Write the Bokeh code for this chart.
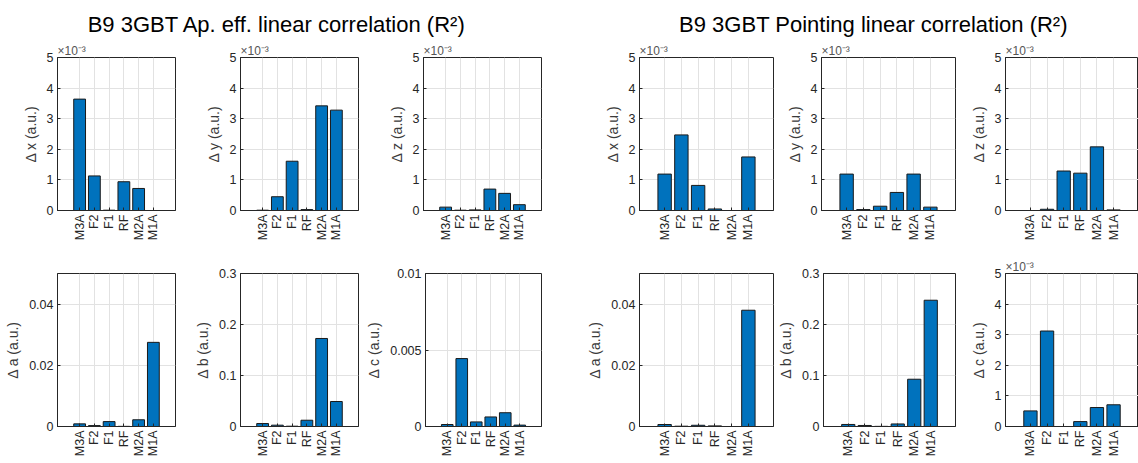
import math
from bokeh.plotting import figure
from bokeh.models import FactorRange, Range1d, FixedTicker, CustomJSTickFormatter, Label, Title
from bokeh.layouts import column, row
from bokeh.embed import file_html
from bokeh.resources import INLINE

# ---------------- data ----------------
cats = ["M3A", "F2", "F1", "RF", "M2A", "M1A"]

# Ap. eff. linear correlation
ap_dx = [3.64e-3, 1.13e-3, 0.01e-3, 0.94e-3, 0.72e-3, 0.0]
ap_dy = [0.01e-3, 0.45e-3, 1.61e-3, 0.03e-3, 3.42e-3, 3.28e-3]
ap_dz = [0.11e-3, 0.01e-3, 0.02e-3, 0.70e-3, 0.56e-3, 0.19e-3]
ap_da = [0.00086, 0.0003, 0.0016, 0.00005, 0.0022, 0.0275]
ap_db = [0.0058, 0.0026, 0.0006, 0.0123, 0.1726, 0.049]
ap_dc = [0.00013, 0.00444, 0.0003, 0.000625, 0.0009, 0.00009]

# Pointing linear correlation
pt_dx = [1.19e-3, 2.47e-3, 0.82e-3, 0.05e-3, 0.0, 1.75e-3]
pt_dy = [1.19e-3, 0.03e-3, 0.14e-3, 0.59e-3, 1.19e-3, 0.11e-3]
pt_dz = [0.0, 0.04e-3, 1.29e-3, 1.22e-3, 2.08e-3, 0.02e-3]
pt_da = [0.00065, 0.0001, 0.0004, 0.0002, 0.0, 0.038]
pt_db = [0.004, 0.002, 0.0003, 0.005, 0.0927, 0.2476]
pt_dc = [0.51e-3, 3.12e-3, 0.0, 0.16e-3, 0.62e-3, 0.71e-3]

title_left = "B9 3GBT Ap. eff. linear correlation (R\u00b2)"
title_right = "B9 3GBT Pointing linear correlation (R\u00b2)"
sci_label = "\u00d710\u207b\u00b3"

ticks_e3 = [0, 0.001, 0.002, 0.003, 0.004, 0.005]
ticks_a = [0, 0.02, 0.04]
ticks_b = [0, 0.1, 0.2, 0.3]
ticks_c = [0, 0.005, 0.01]

# ---------------- styling ----------------
FONT = "Liberation Sans"
BAR = "#0072BD"
EDGE = "#1a1a1a"
AX = "#262626"
GRID = "#e2e2e2"


def make_panel(vals, ylabel, ymax, ticks, sci, w, h, mb):
    left, right, top, bottom = mb
    p = figure(
        x_range=FactorRange(factors=cats, range_padding=1.0, range_padding_units="absolute"),
        y_range=Range1d(0, ymax),
        width=w, height=h,
        min_border_left=left, min_border_right=right,
        min_border_top=top, min_border_bottom=bottom,
        toolbar_location=None, output_backend="svg",
    )
    p.vbar(x=cats, top=vals, width=0.8, fill_color=BAR, line_color=EDGE, line_width=1)
    p.yaxis.ticker = FixedTicker(ticks=ticks)
    if sci:
        p.yaxis.formatter = CustomJSTickFormatter(code="return (tick*1000).toFixed(0);")
    else:
        p.yaxis.formatter = CustomJSTickFormatter(
            code="return tick === 0 ? '0' : String(parseFloat(tick.toPrecision(6)));")
    for ax in (p.xaxis, p.yaxis):
        ax.axis_line_color = AX
        ax.major_tick_line_color = AX
        ax.major_tick_in = 3
        ax.major_tick_out = 0
        ax.minor_tick_line_color = None
        ax.major_label_text_font = FONT
        ax.major_label_text_font_size = "12.5px"
        ax.major_label_text_color = AX
        ax.major_label_standoff = 4
    p.xaxis.major_label_orientation = math.pi / 2
    p.yaxis.axis_label = ylabel
    p.yaxis.axis_label_text_font = FONT
    p.yaxis.axis_label_text_font_size = "14px"
    p.yaxis.axis_label_text_font_style = "normal"
    p.yaxis.axis_label_text_color = "#3a3a3a"
    p.yaxis.axis_label_standoff = 5
    p.xgrid.grid_line_color = GRID
    p.ygrid.grid_line_color = GRID
    p.outline_line_color = AX
    p.outline_line_width = 1
    p.background_fill_color = "white"
    p.border_fill_color = "white"
    if sci:
        p.add_layout(Title(text=sci_label, align="left", standoff=0,
                           text_font=FONT, text_font_size="12px", text_font_style="normal",
                           text_color="#555555"), "above")
    return p


# column slots: (width, left border, right border)
cols = [(190, 57, 15), (173, 50, 5), (217, 60, 39),
        (195, 59, 2), (190, 46, 10), (173, 40, 0)]
title_h = 40
top_h = 210
top_mb_l = (17, 38)
top_mb_r = (15, 40)
bot_h = 213
bot_mb_l = (23, 36)
bot_mb_r = (22, 37)

top_specs = [
    (ap_dx, "\u0394 x (a.u.)", 0.005, ticks_e3, True),
    (ap_dy, "\u0394 y (a.u.)", 0.005, ticks_e3, True),
    (ap_dz, "\u0394 z (a.u.)", 0.005, ticks_e3, True),
    (pt_dx, "\u0394 x (a.u.)", 0.005, ticks_e3, True),
    (pt_dy, "\u0394 y (a.u.)", 0.005, ticks_e3, True),
    (pt_dz, "\u0394 z (a.u.)", 0.005, ticks_e3, True),
]
bot_specs = [
    (ap_da, "\u0394 a (a.u.)", 0.05, ticks_a, False),
    (ap_db, "\u0394 b (a.u.)", 0.3, ticks_b, False),
    (ap_dc, "\u0394 c (a.u.)", 0.01, ticks_c, False),
    (pt_da, "\u0394 a (a.u.)", 0.05, ticks_a, False),
    (pt_db, "\u0394 b (a.u.)", 0.3, ticks_b, False),
    (pt_dc, "\u0394 c (a.u.)", 0.005, ticks_e3, True),
]

top_row = []
bot_row = []
for i, (w, l, r) in enumerate(cols):
    tm = top_mb_l if i < 3 else top_mb_r
    bm = bot_mb_l if i < 3 else bot_mb_r
    v, lab, ym, tk, sci = top_specs[i]
    top_row.append(make_panel(v, lab, ym, tk, sci, w, top_h, (l, r, tm[0], tm[1])))
    v, lab, ym, tk, sci = bot_specs[i]
    bot_row.append(make_panel(v, lab, ym, tk, sci, w, bot_h, (l, r, bm[0], bm[1])))

# title strip
tp = figure(width=1138, height=title_h, x_range=(0, 1138), y_range=(0, title_h),
            min_border=0, toolbar_location=None, output_backend="svg",
            x_axis_location=None, y_axis_location=None)
tp.grid.visible = False
tp.outline_line_color = None
tp.add_layout(Label(x=276.5, y=16, text=title_left, text_font=FONT, text_font_size="22px",
                    text_align="center", text_baseline="alphabetic", text_color="#000000"))
tp.add_layout(Label(x=873, y=16, text=title_right, text_font=FONT, text_font_size="22px",
                    text_align="center", text_baseline="alphabetic", text_color="#000000"))

layout = column(tp, row(*top_row, spacing=0), row(*bot_row, spacing=0), spacing=0)

with open("out.html", "w") as f:
    f.write(file_html(layout, INLINE))
